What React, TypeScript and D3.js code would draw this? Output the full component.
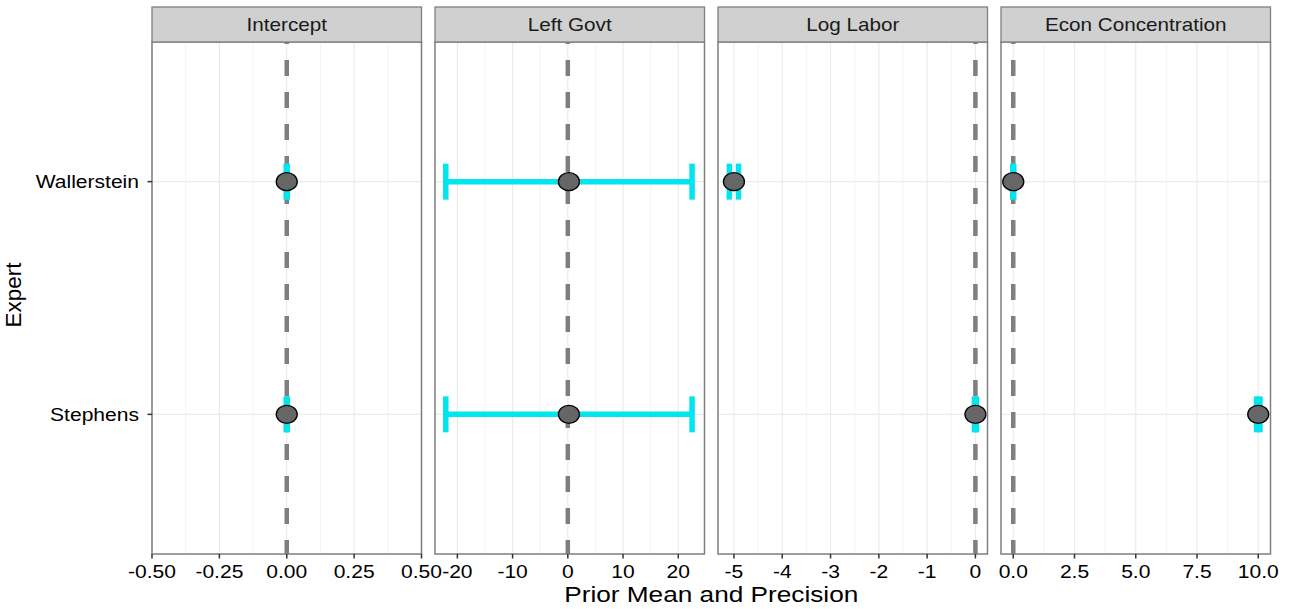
import React from 'react';
import * as d3 from 'd3';

// facets, left to right
const variables = ['Intercept', 'Left Govt', 'Log Labor', 'Econ Concentration'];
const experts = ['Wallerstein', 'Stephens'];

// prior means and half-widths (precision bars), one entry per facet
const wallersteinMean = [0, 0.2, -5, 0];
const wallersteinSpread = [0.002, 22.3, 0.095, 0.02];
const stephensMean = [0, 0.2, 0, 10];
const stephensSpread = [0.002, 22.3, 0.02, 0.07];

// free x scales, as ggplot expanded them
const xDomains: [number, number][] = [[-0.5, 0.5], [-24.05, 24.75], [-5.33, 0.25], [-0.5, 10.5]];
const majorTicks = [
  [-0.5, -0.25, 0, 0.25, 0.5],
  [-20, -10, 0, 10, 20],
  [-5, -4, -3, -2, -1, 0],
  [0, 2.5, 5, 7.5, 10],
];
const tickLabels = [
  ['-0.50', '-0.25', '0.00', '0.25', '0.50'],
  ['-20', '-10', '0', '10', '20'],
  ['-5', '-4', '-3', '-2', '-1', '0'],
  ['0.0', '2.5', '5.0', '7.5', '10.0'],
];
const minorTicks = [
  [-0.375, -0.125, 0.125, 0.375],
  [-15, -5, 5, 15],
  [-4.5, -3.5, -2.5, -1.5, -0.5],
  [1.25, 3.75, 6.25, 8.75],
];

const W = 1293;
const H = 609;
const panelLeft = 152;
const panelRight = 1270.5;
const panelGap = 13.5;
const panelTop = 42;
const panelBottom = 554;
const stripTop = 7;
const font = '"Liberation Sans", Arial, Helvetica, sans-serif';
const sx = 1.15; // the picture is a bit wider than tall

const App = () => {
  const nP = variables.length;
  const pw = (panelRight - panelLeft - panelGap * (nP - 1)) / nP;

  const y = d3.scalePoint<string>()
    .domain(experts)
    .range([panelTop, panelBottom])
    .padding(0.6);

  const rows = [
    { expert: 'Wallerstein', mean: wallersteinMean, spread: wallersteinSpread },
    { expert: 'Stephens', mean: stephensMean, spread: stephensSpread },
  ];

  return (
    <svg width={W} height={H} style={{ position: 'absolute', left: 0, top: 0, background: '#fff' }}>
      {variables.map((v, i) => {
        const x0 = panelLeft + i * (pw + panelGap);
        const x = d3.scaleLinear().domain(xDomains[i]).range([x0, x0 + pw]);
        return (
          <g key={v}>
            {/* grid */}
            {minorTicks[i].map(t => (
              <line key={'mi' + t} x1={x(t)} x2={x(t)} y1={panelTop} y2={panelBottom} stroke="#f4f4f4" strokeWidth={1} />
            ))}
            {majorTicks[i].map(t => (
              <line key={'ma' + t} x1={x(t)} x2={x(t)} y1={panelTop} y2={panelBottom} stroke="#ebebeb" strokeWidth={1.2} />
            ))}
            {experts.map(e => (
              <line key={e} x1={x0} x2={x0 + pw} y1={y(e)} y2={y(e)} stroke="#ebebeb" strokeWidth={1.2} />
            ))}

            {/* zero line */}
            <line x1={x(0)} x2={x(0)} y1={panelTop} y2={panelBottom}
              stroke="#7f7f7f" strokeWidth={4.5} strokeDasharray="16,16" strokeDashoffset={14} />

            {/* precision bars */}
            {rows.map(r => {
              const cy = y(r.expert) as number;
              const lo = x(r.mean[i] - r.spread[i]);
              const hi = x(r.mean[i] + r.spread[i]);
              return (
                <g key={r.expert} stroke="#00e5ee" strokeWidth={5.5}>
                  <line x1={lo} x2={hi} y1={cy} y2={cy} />
                  <line x1={lo} x2={lo} y1={cy - 18} y2={cy + 18} />
                  <line x1={hi} x2={hi} y1={cy - 18} y2={cy + 18} />
                </g>
              );
            })}
            {rows.map(r => (
              <ellipse key={'p' + r.expert} cx={x(r.mean[i])} cy={y(r.expert)} rx={10.5} ry={9}
                fill="#666666" stroke="#000" strokeWidth={1.3} />
            ))}

            {/* panel border */}
            <rect x={x0} y={panelTop} width={pw} height={panelBottom - panelTop}
              fill="none" stroke="#7f7f7f" strokeWidth={1.5} />

            {/* strip */}
            <rect x={x0} y={stripTop} width={pw} height={panelTop - stripTop}
              fill="#d0d0d0" stroke="#7f7f7f" strokeWidth={1.3} />
            <text transform={`translate(${x0 + pw / 2},${(stripTop + panelTop) / 2 + 6.5}) scale(${sx},1)`}
              textAnchor="middle" fontFamily={font} fontSize={18} fill="#1a1a1a">{v}</text>

            {/* x axis */}
            {majorTicks[i].map((t, k) => (
              <g key={'t' + t}>
                <line x1={x(t)} x2={x(t)} y1={panelBottom} y2={panelBottom + 4.5} stroke="#333" strokeWidth={1.5} />
                <text transform={`translate(${x(t)},${panelBottom + 24}) scale(${sx},1)`}
                  textAnchor="middle" fontFamily={font} fontSize={18.3} fill="#000">{tickLabels[i][k]}</text>
              </g>
            ))}
          </g>
        );
      })}

      {/* y axis */}
      {experts.map(e => (
        <g key={'y' + e}>
          <line x1={panelLeft - 4.5} x2={panelLeft} y1={y(e)} y2={y(e)} stroke="#333" strokeWidth={1.5} />
          <text transform={`translate(${panelLeft - 13},${(y(e) as number) + 6.5}) scale(${sx},1)`}
            textAnchor="end" fontFamily={font} fontSize={18.3} fill="#000">{e}</text>
        </g>
      ))}

      {/* axis titles */}
      <text transform={`translate(${(panelLeft + panelRight) / 2},${602}) scale(${sx},1)`}
        textAnchor="middle" fontFamily={font} fontSize={22.8} fill="#000">Prior Mean and Precision</text>
      <text transform={`translate(${21},${295}) rotate(-90)`}
        textAnchor="middle" fontFamily={font} fontSize={22.5} fill="#000">Expert</text>
    </svg>
  );
};

export default App;
